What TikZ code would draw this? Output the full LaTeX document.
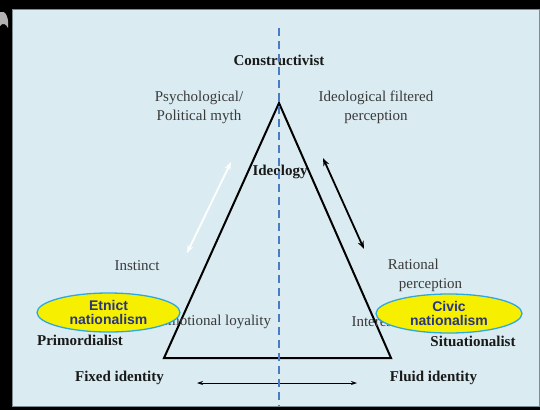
\documentclass[tikz,border=0pt]{standalone}
\usepackage{fontspec}
\setmainfont{Liberation Serif}
\newfontfamily\ellfont{Liberation Sans}
\usetikzlibrary{arrows.meta,shapes.geometric}
\definecolor{panel}{HTML}{DAECF2}
\definecolor{panelline}{HTML}{7C8C92}
\definecolor{dashblue}{HTML}{4A7CC4}
\definecolor{txtgray}{HTML}{3A3A3A}
\definecolor{elltxt}{HTML}{2A3580}
\definecolor{ellyellow}{HTML}{F6F000}
\definecolor{ellborder}{HTML}{2FA8E0}
\tikzset{
  plain/.style={text=txtgray,font=\fontsize{15}{19}\selectfont,align=center,inner sep=0pt},
  boldlbl/.style={text=black!90,font=\fontsize{15}{19}\selectfont\bfseries,inner sep=0pt},
  nation/.style={ellipse,draw=ellborder,line width=1.3pt,fill=ellyellow,minimum width=143pt,minimum height=39pt,inner sep=0pt,text=elltxt,font=\ellfont\fontsize{14}{14}\selectfont\bfseries,align=center},
  tri/.style={line width=2pt,line join=miter},
  dblarrow/.style={line width=1.8pt,{Stealth[length=8pt,width=6pt]}-{Stealth[length=8pt,width=6pt]}}
}
\begin{document}
\begin{tikzpicture}[x=1pt,y=-1pt]
\useasboundingbox (0,0) rectangle (540,410);
\fill[black] (0,0) rectangle (540,410);
\fill[gray!60] (0,12) .. controls (6,10) and (9,18) .. (8,28) .. controls (6,24) and (3,22) .. (0,26) -- cycle;
\draw[fill=panel,draw=panelline,line width=1pt] (12,9) rectangle (539,406);
% triangle
\coordinate (apex) at (279,103);
\coordinate (bl) at (164,358);
\coordinate (br) at (391,358);
\draw[tri] (apex) -- (bl) -- (br) -- cycle;
% labels
\node[boldlbl] (constr) at (279,60) {Constructivist};
\node[plain] (psych) at (199,107) {Psychological/\\Political myth};
\node[plain] (ideofilt) at (376,107) {Ideological filtered\\perception};
\node[boldlbl] (ideology) at (280,172) {Ideology};
\node[plain] (instinct) at (137,266) {Instinct};
\node[plain,align=left] (rational) at (425,275) {Rational\\\hspace{11pt}perception};
\node[plain] (emot) at (215,322) {Emotional loyality};
\node[plain] (interest) at (374,322) {Interest};
\node[boldlbl] (primo) at (80,340) {Primordialist};
\node[boldlbl] (situ) at (473,341) {Situationalist};
\node[boldlbl] (fixed) at (119.5,378) {Fixed identity};
\node[boldlbl] (fluid) at (433.5,378) {Fluid identity};
% ellipses
\node[nation] (etnic) at (108.5,312.5) {Etnict\\nationalism};
\node[nation,minimum width=146pt] (civic) at (449,313.5) {Civic\\nationalism};
% arrows
\coordinate (wa) at (187,253);
\coordinate (wb) at (231,162);
\draw[dblarrow,white] (wa) -- (wb);
\coordinate (ba) at (323,158);
\coordinate (bb) at (364,249);
\draw[dblarrow,black] (ba) -- (bb);
\coordinate (fa) at (197,383);
\coordinate (fb) at (357,383);
\draw[line width=0.8pt,{Stealth[length=6pt,width=4pt]}-{Stealth[length=6pt,width=4pt]}] (fa) -- (fb);
% dashed axis
\coordinate (dtop) at (279,28);
\coordinate (dbot) at (279,406);
\draw[dashblue,line width=2.2pt,dash pattern=on 8pt off 5pt] (dtop) -- (dbot);
\end{tikzpicture}
\end{document}
